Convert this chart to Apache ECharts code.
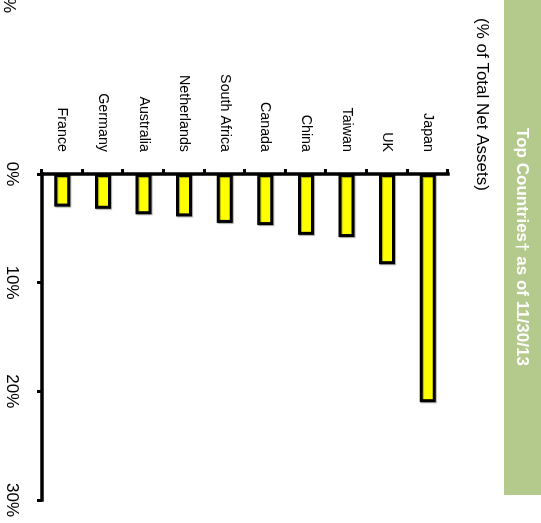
<!DOCTYPE html>
<html>
<head>
<meta charset="utf-8">
<script src="https://cdn.jsdelivr.net/npm/echarts@6/dist/echarts.min.js"></script>
<style>
  html, body { margin: 0; padding: 0; background: #ffffff; overflow: hidden; }
  /* the chart is laid out landscape-style and turned a quarter turn clockwise */
  #chart {
    position: absolute; left: 0; top: 0;
    width: 523px; height: 541px;
    transform-origin: 0 0;
    transform: rotate(90deg) translateY(-100%);
  }
</style>
</head>
<body>
<div id="chart"></div>
<script>
// Top countries, % of total net assets
var countries = ['Japan', 'UK', 'Taiwan', 'China', 'Canada', 'South Africa', 'Netherlands', 'Australia', 'Germany', 'France'];
var weights = [21.0, 8.3, 5.8, 5.6, 4.7, 4.5, 3.9, 3.7, 3.2, 3.0];
var axisTicks = [0, 10, 20, 30];
var titleText = 'Top Countries\u2020 as of 11/30/13';
var subtitleText = '(% of Total Net Assets)';

var FONT = '"Liberation Sans", Arial, sans-serif';
var chart = echarts.init(document.getElementById('chart'), null, { renderer: 'canvas' });

chart.setOption({
  animation: false,
  backgroundColor: '#ffffff',
  grid: { left: 174, right: 23, top: 93, bottom: 42, containLabel: false },
  xAxis: {
    type: 'value',
    min: axisTicks[0],
    max: axisTicks[axisTicks.length - 1],
    interval: axisTicks[1] - axisTicks[0],
    axisLine: { show: true, lineStyle: { color: '#000', width: 3.5, cap: 'square' } },
    axisTick: { show: true, length: 5, lineStyle: { color: '#000', width: 3 } },
    splitLine: { show: false },
    axisLabel: {
      formatter: '{value}%', color: '#000', fontFamily: FONT, fontSize: 17, margin: 22
    }
  },
  yAxis: {
    type: 'category',
    inverse: true,
    data: countries,
    axisLine: { show: true, lineStyle: { color: '#000', width: 3.5, cap: 'square' } },
    axisTick: { show: true, length: 5, lineStyle: { color: '#000', width: 3 } },
    axisLabel: { color: '#000', fontFamily: FONT, fontSize: 14.3, margin: 22 }
  },
  series: [{
    type: 'bar',
    data: weights,
    barWidth: 16,
    itemStyle: {
      color: '#ffff00',
      borderColor: '#000',
      borderWidth: 3,
      shadowColor: 'rgba(0,0,0,0.35)',
      shadowBlur: 1,
      shadowOffsetX: 1,
      shadowOffsetY: -1
    }
  }],
  graphic: [
    {
      type: 'rect',
      shape: { x: 0, y: 0, width: 495, height: 37 },
      style: { fill: '#b4c98c' },
      silent: true
    },
    {
      type: 'text',
      x: 247, y: 19,
      style: {
        text: titleText, fill: '#ffffff', font: 'bold 17px ' + FONT,
        align: 'center', verticalAlign: 'middle'
      }
    },
    {
      type: 'text',
      x: 18, y: 59,
      style: {
        text: subtitleText, fill: '#000', font: '17px ' + FONT,
        align: 'left', verticalAlign: 'middle'
      }
    },
    {
      type: 'text',
      x: 13, y: 532,
      style: {
        text: '%', fill: '#000', font: '17px ' + FONT,
        align: 'right', verticalAlign: 'middle'
      }
    }
  ]
});
</script>
</body>
</html>
